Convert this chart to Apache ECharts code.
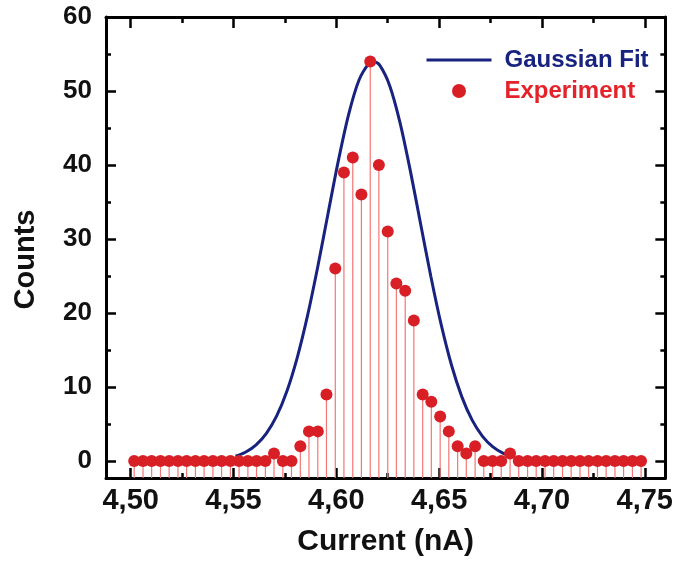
<!DOCTYPE html>
<html>
<head>
<meta charset="utf-8">
<title>Counts vs Current</title>
<script src="https://cdn.jsdelivr.net/npm/echarts@6/dist/echarts.min.js"></script>
<style>
  html, body { margin: 0; padding: 0; background: #fff; }
  #chart { width: 676px; height: 563px; }
</style>
</head>
<body>
<div id="chart"></div>
<script>
// experiment: current (nA) and counts per bin
const currentNA = [
  4.5017, 4.5060, 4.5102, 4.5145, 4.5187, 4.5230, 4.5272, 4.5315, 4.5357, 4.5400,
  4.5442, 4.5485, 4.5527, 4.5570, 4.5612, 4.5655, 4.5697, 4.5740, 4.5782, 4.5825,
  4.5867, 4.5910, 4.5952, 4.5995, 4.6037, 4.6080, 4.6122, 4.6165, 4.6207, 4.6250,
  4.6292, 4.6335, 4.6377, 4.6420, 4.6462, 4.6505, 4.6547, 4.6590, 4.6632, 4.6675,
  4.6717, 4.6760, 4.6802, 4.6845, 4.6887, 4.6930, 4.6972, 4.7015, 4.7057, 4.7100,
  4.7142, 4.7185, 4.7227, 4.7270, 4.7312, 4.7355, 4.7397, 4.7440, 4.7482
];
const counts = [
  0, 0, 0, 0, 0, 0, 0, 0, 0, 0,
  0, 0, 0, 0, 0, 0, 1, 0, 0, 2,
  4, 4, 9, 26, 39, 41, 36, 54, 40, 31,
  24, 23, 19, 9, 8, 6, 4, 2, 1, 2,
  0, 0, 0, 1, 0, 0, 0, 0, 0, 0,
  0, 0, 0, 0, 0, 0, 0, 0, 0
];

// gaussian fit curve
const fitX = [
  4.551, 4.556, 4.561, 4.566, 4.571, 4.576, 4.581, 4.586, 4.591, 4.596,
  4.601, 4.606, 4.611, 4.616, 4.618, 4.621, 4.626, 4.631, 4.636, 4.641,
  4.646, 4.651, 4.656, 4.661, 4.666, 4.671, 4.676, 4.681, 4.686
];
const fitY = [
  0.64, 1.21, 2.18, 3.74, 6.09, 9.46, 13.98, 19.64, 26.29, 33.48,
  40.59, 46.84, 51.45, 53.79, 54.0, 53.52, 50.69, 45.70, 39.21, 32.03,
  24.90, 18.42, 12.97, 8.70, 5.55, 3.37, 1.95, 1.07, 0.56
];

// axis ticks
const xTicks = [4.50, 4.55, 4.60, 4.65, 4.70, 4.75];
const xMinorTicks = [4.525, 4.575, 4.625, 4.675, 4.725];
const yTicks = [0, 10, 20, 30, 40, 50, 60];
const yMinorTicks = [5, 15, 25, 35, 45, 55];

const X_MIN = 4.488, X_MAX = 4.760;
const Y_MIN = -2.3, Y_MAX = 60;

const FONT = '"Liberation Sans", Arial, sans-serif';
const NAVY = '#18227f';
const RED = '#d91f26';

const expData = currentNA.map((x, i) => [x, counts[i]]);
const fitData = fitX.map((x, i) => [x, fitY[i]]);

function xAxisDef(position, ticks, len, withLine, withLabel) {
  return {
    type: 'value', position: position, min: X_MIN, max: X_MAX,
    axisLine: { show: withLine, onZero: false, lineStyle: { color: '#000', width: 3 } },
    axisTick: { show: true, inside: true, length: len, customValues: ticks,
      lineStyle: { color: '#000', width: 2.5 } },
    axisLabel: withLabel ? {
      show: true, customValues: ticks, margin: 8,
      fontFamily: FONT, fontWeight: 'bold', fontSize: 29, color: '#111',
      formatter: v => v.toFixed(2).replace('.', ',')
    } : { show: false },
    splitLine: { show: false }
  };
}

function yAxisDef(position, ticks, len, withLine, withLabel) {
  return {
    type: 'value', position: position, min: Y_MIN, max: Y_MAX,
    axisLine: { show: withLine, onZero: false, lineStyle: { color: '#000', width: 3 } },
    axisTick: { show: true, inside: true, length: len, customValues: ticks,
      lineStyle: { color: '#000', width: 2.5 } },
    axisLabel: withLabel ? {
      show: true, customValues: ticks, margin: 14,
      fontFamily: FONT, fontWeight: 'bold', fontSize: 26, color: '#111'
    } : { show: false },
    splitLine: { show: false }
  };
}

const chart = echarts.init(document.getElementById('chart'));

const xMain = xAxisDef('bottom', xTicks, 10, true, true);
xMain.name = 'Current (nA)';
xMain.nameLocation = 'middle';
xMain.nameGap = 49;
xMain.nameTextStyle = { fontFamily: FONT, fontWeight: 'bold', fontSize: 30, color: '#111' };

const yMain = yAxisDef('left', yTicks, 10, true, true);
yMain.name = 'Counts';
yMain.nameLocation = 'middle';
yMain.nameGap = 66;
yMain.nameTextStyle = { fontFamily: FONT, fontWeight: 'bold', fontSize: 29, color: '#111',
  padding: [0, 24, 0, 0] };

chart.setOption({
  backgroundColor: '#fff',
  animation: false,
  grid: { left: 106, right: 9, top: 17, bottom: 85 },
  legend: {
    orient: 'vertical', left: 425, top: 48, padding: 0,
    itemWidth: 65, itemHeight: 14, itemGap: 7,
    textStyle: { fontFamily: FONT, fontWeight: 'bold', fontSize: 24, lineHeight: 24,
      padding: [0, 0, 0, 8] },
    data: [
      { name: 'Gaussian Fit', textStyle: { color: NAVY },
        itemStyle: { opacity: 0 }, lineStyle: { width: 3, color: NAVY } },
      { name: 'Experiment', textStyle: { color: '#e4222a' } }
    ]
  },
  xAxis: [
    xMain,
    xAxisDef('bottom', xMinorTicks, 5, false, false),
    xAxisDef('top', xTicks, 11, true, false),
    xAxisDef('top', xMinorTicks, 6, false, false)
  ],
  yAxis: [
    yMain,
    yAxisDef('left', yMinorTicks, 5, false, false),
    yAxisDef('right', yTicks, 10, true, false),
    yAxisDef('right', yMinorTicks, 5, false, false)
  ],
  series: [
    {
      name: 'stems',
      type: 'custom',
      z: 1,
      data: expData,
      renderItem: function (params, api) {
        const top = api.coord([api.value(0), api.value(1)]);
        const bottom = api.coord([api.value(0), Y_MIN]);
        return {
          type: 'line',
          shape: { x1: top[0], y1: top[1], x2: bottom[0], y2: bottom[1] },
          style: { stroke: '#f47676', lineWidth: 1.2 }
        };
      }
    },
    {
      name: 'Gaussian Fit',
      type: 'line',
      z: 2,
      smooth: 0.3,
      symbol: 'none',
      data: fitData,
      lineStyle: { color: NAVY, width: 3 },
      itemStyle: { color: NAVY }
    },
    {
      name: 'Experiment',
      type: 'scatter',
      z: 3,
      symbol: 'circle',
      symbolSize: 12,
      data: expData,
      itemStyle: { color: RED, opacity: 1 }
    }
  ]
});
</script>
</body>
</html>
